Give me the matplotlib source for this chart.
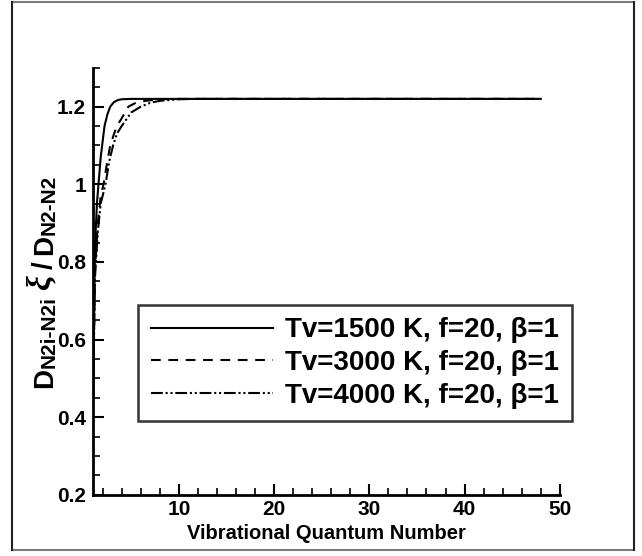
import matplotlib
matplotlib.use('Agg')
import matplotlib.pyplot as plt
from matplotlib.lines import Line2D
from matplotlib.ticker import MultipleLocator, FixedLocator

plt.rcParams['font.family'] = ['Liberation Sans', 'DejaVu Sans']
plt.rcParams['font.weight'] = 'bold'
plt.rcParams['lines.scale_dashes'] = False

# vibrational level vs normalised diffusion coefficient
x_1500 = [1.0, 1.2, 1.4, 1.6, 1.8, 2.0, 2.2, 2.5, 2.8, 3.2, 3.6, 4.0, 5.0, 6.0, 8.0, 10, 20, 30, 40, 48]
y_1500 = [0.45, 0.84, 0.95, 1.01, 1.07, 1.11, 1.15, 1.18, 1.20, 1.212, 1.217, 1.219, 1.22, 1.22, 1.22, 1.22, 1.22, 1.22, 1.22, 1.22]

x_3000 = [1.0, 1.2, 1.5, 1.8, 2.1, 2.5, 2.8, 3.2, 3.5, 4.0, 4.7, 5.5, 6.5, 8.0, 10, 20, 30, 40, 48]
y_3000 = [0.45, 0.78, 0.90, 0.97, 1.00, 1.06, 1.10, 1.13, 1.15, 1.17, 1.20, 1.21, 1.215, 1.219, 1.22, 1.22, 1.22, 1.22, 1.22]

x_4000 = [1.0, 1.2, 1.5, 1.8, 2.3, 2.7, 3.1, 3.5, 4.0, 5.0, 6.0, 7.0, 8.0, 10, 12, 20, 30, 40, 48]
y_4000 = [0.45, 0.76, 0.88, 0.95, 1.00, 1.06, 1.10, 1.13, 1.15, 1.185, 1.20, 1.21, 1.215, 1.219, 1.22, 1.22, 1.22, 1.22, 1.22]

labels = ['Tv=1500 K, f=20, \u03b2=1', 'Tv=3000 K, f=20, \u03b2=1', 'Tv=4000 K, f=20, \u03b2=1']
y_ticks = [0.2, 0.4, 0.6, 0.8, 1.0, 1.2]
y_tick_labels = ['0.2', '0.4', '0.6', '0.8', '1', '1.2']
x_ticks = [10, 20, 30, 40, 50]

W, H = 642, 556
fig = plt.figure(figsize=(W / 100, H / 100), dpi=100)
ax = fig.add_axes([0.145, 0.110, 0.727, 0.768])

lw = 1.5
ax.plot(x_1500, y_1500, color='black', lw=lw, label=labels[0])
l2, = ax.plot(x_3000, y_3000, color='black', lw=lw, label=labels[1])
l2.set_dashes([7, 5.5])
l3, = ax.plot(x_4000, y_4000, color='black', lw=lw, label=labels[2])
l3.set_dashes([8.5, 2, 1.5, 2, 1.5, 2])

ax.set_xlim(1, 50)
ax.set_ylim(0.2, 1.3)
ax.xaxis.set_major_locator(FixedLocator(x_ticks))
ax.xaxis.set_minor_locator(MultipleLocator(2))
ax.yaxis.set_major_locator(FixedLocator(y_ticks))
ax.set_yticklabels(y_tick_labels)
ax.yaxis.set_minor_locator(MultipleLocator(0.05))

for s in ['top', 'right']:
    ax.spines[s].set_visible(False)
for s in ['left', 'bottom']:
    ax.spines[s].set_linewidth(2)

ax.tick_params(which='major', direction='in', length=8, width=1.5, labelsize=15)
ax.tick_params(axis='y', which='major', pad=5)
ax.tick_params(axis='x', which='major', pad=4)
ax.tick_params(which='minor', direction='in', length=5, width=1.2)
for t in ax.get_xticklabels() + ax.get_yticklabels():
    t.set_fontweight('bold')

ax.set_xlabel('Vibrational Quantum Number', fontsize=14.5, fontweight='bold', labelpad=3)

# y label built piece by piece, running upward from the bottom
renderer = fig.canvas.get_renderer()
pieces = [
    ('D', 20, 52, 'Liberation Sans', 'normal', 0),
    ('N2i-N2i', 15, 55, 'Liberation Sans', 'normal', 6),
    ('\u03be', 24, 49, 'Liberation Serif', 'italic', 6),
    ('/', 20, 52, 'Liberation Sans', 'normal', 6),
    ('D', 20, 52, 'Liberation Sans', 'normal', 0),
    ('N2-N2', 15, 55, 'Liberation Sans', 'normal', 0),
]
y_disp = H - 388
for txt, size, xb, fam, style, gap in pieces:
    t = fig.text(xb / W, y_disp / H, txt, rotation=90, rotation_mode='anchor',
                 ha='left', va='baseline', fontsize=size, fontweight='bold',
                 family=fam, style=style)
    bb = t.get_window_extent(renderer)
    y_disp = bb.y1 + gap

leg = ax.legend(loc='upper right', bbox_to_anchor=(1.026, 0.445),
                prop={'weight': 'bold', 'size': 20},
                handlelength=4.4, handletextpad=0.45, labelspacing=0.24,
                borderpad=0.45, borderaxespad=0, frameon=True, fancybox=False)
leg.get_frame().set_edgecolor('black')
leg.get_frame().set_linewidth(1.8)

# outer page frame: darker sides, grey top and bottom
x0, x1 = 12 / W, 634 / W
y0, y1 = 1 - 550 / H, 1 - 2 / H
fig.lines.append(Line2D([x0, x1], [y1, y1], transform=fig.transFigure, color='#7a7a7a', lw=1.5))
fig.lines.append(Line2D([x0, x1], [y0, y0], transform=fig.transFigure, color='#7a7a7a', lw=1.5))
fig.lines.append(Line2D([x0, x0], [y0, y1], transform=fig.transFigure, color='#222222', lw=1.5))
fig.lines.append(Line2D([x1, x1], [y0, y1], transform=fig.transFigure, color='#222222', lw=1.5))

fig.savefig('out.png', dpi=100)
